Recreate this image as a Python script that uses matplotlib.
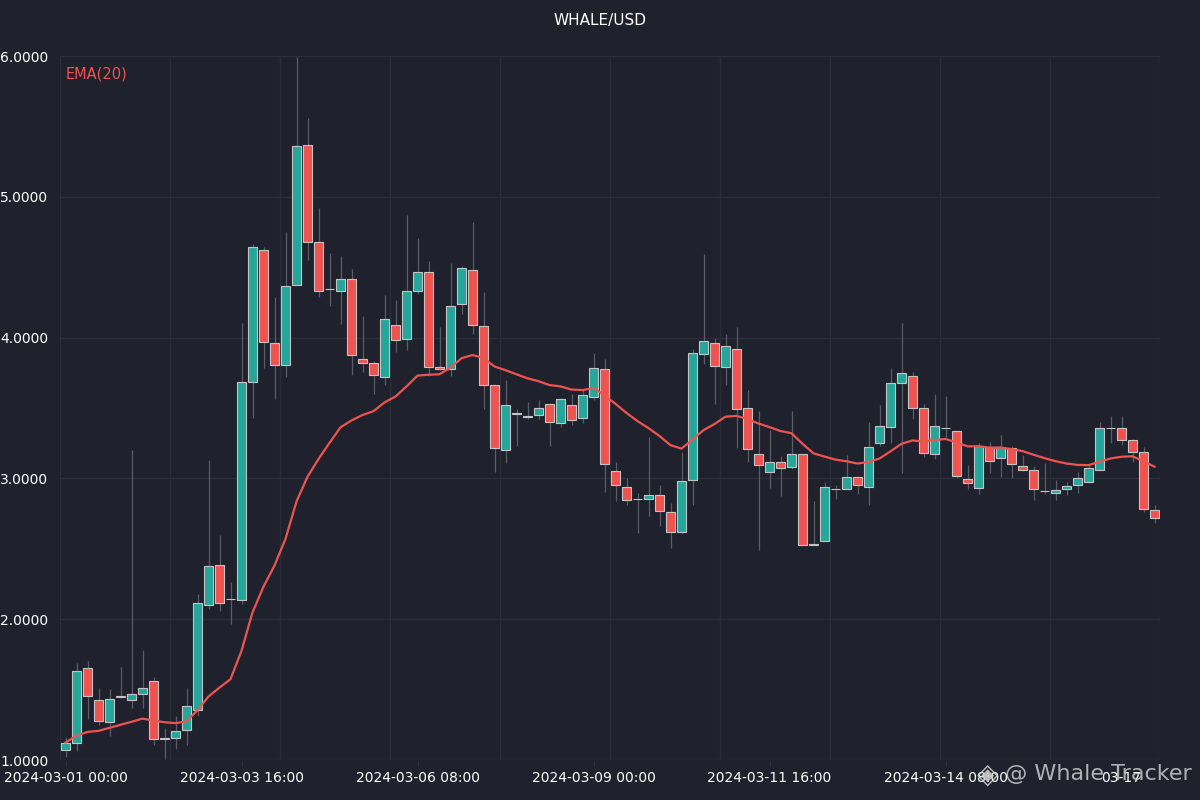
import matplotlib
matplotlib.use("Agg")
import matplotlib.pyplot as plt
import numpy as np
import pandas as pd

# OHLC values, one per 4h candle
opens = [1.072, 1.124, 1.651, 1.427, 1.270, 1.450, 1.423, 1.472, 1.560, 1.147,
         1.153, 1.212, 1.358, 2.098, 2.384, 2.143, 2.137, 3.684, 4.625, 3.961,
         3.808, 4.371, 5.365, 4.678, 4.345, 4.332, 4.414, 3.850, 3.818, 3.720,
         4.091, 3.993, 4.332, 4.463, 3.792, 3.775, 4.241, 4.479, 4.085, 3.661,
         3.205, 3.465, 3.440, 3.450, 3.531, 3.394, 3.524, 3.427, 3.580, 3.775,
         3.052, 2.938, 2.857, 2.857, 2.883, 2.762, 2.619, 2.990, 3.886, 3.961,
         3.792, 3.922, 3.498, 3.176, 3.046, 3.117, 3.078, 3.176, 2.528, 2.557,
         2.925, 2.922, 3.010, 2.938, 3.248, 3.362, 3.678, 3.726, 3.498, 3.173,
         3.355, 3.336, 2.993, 2.932, 3.225, 3.143, 3.215, 3.088, 3.062, 2.912,
         2.899, 2.922, 2.954, 2.977, 3.062, 3.355, 3.355, 3.274, 3.189, 2.775]
highs = [1.163, 1.690, 1.700, 1.511, 1.505, 1.658, 3.205, 1.782, 1.586, 1.228,
         1.316, 1.511, 2.182, 3.134, 2.596, 2.264, 4.104, 4.664, 4.642, 4.290,
         4.749, 5.993, 5.560, 4.919, 4.599, 4.583, 4.485, 4.150, 3.834, 4.300,
         4.264, 4.873, 4.704, 4.544, 4.078, 4.528, 4.508, 4.818, 4.322, 3.671,
         3.697, 3.492, 3.544, 3.557, 3.535, 3.573, 3.596, 3.638, 3.889, 3.850,
         3.117, 3.003, 2.899, 3.296, 2.954, 2.824, 3.189, 3.922, 4.593, 3.997,
         4.029, 4.078, 3.629, 3.476, 3.345, 3.156, 3.476, 3.176, 2.840, 2.977,
         2.954, 3.166, 3.020, 3.401, 3.524, 3.785, 4.101, 3.759, 3.531, 3.596,
         3.583, 3.336, 3.094, 3.248, 3.257, 3.306, 3.231, 3.166, 3.085, 3.108,
         2.987, 2.977, 3.042, 3.094, 3.401, 3.443, 3.443, 3.280, 3.225, 2.814]
lows = [1.023, 1.065, 1.293, 1.251, 1.169, 1.440, 1.368, 1.368, 1.107, 1.005,
        1.075, 1.104, 1.316, 2.075, 2.059, 1.967, 2.107, 3.427, 3.785, 3.564,
        3.720, 4.371, 4.550, 4.290, 4.225, 4.094, 3.736, 3.759, 3.599, 3.661,
        3.899, 3.915, 4.313, 3.726, 3.769, 3.726, 4.169, 4.023, 3.492, 3.046,
        3.111, 3.231, 3.420, 3.420, 3.231, 3.362, 3.378, 3.394, 3.557, 2.906,
        2.840, 2.808, 2.612, 2.736, 2.661, 2.505, 2.603, 2.814, 3.811, 3.531,
        3.661, 3.215, 3.117, 2.489, 2.932, 2.873, 3.068, 2.528, 2.524, 2.554,
        2.857, 2.922, 2.889, 2.808, 3.231, 3.248, 3.036, 3.420, 3.150, 3.140,
        3.296, 3.003, 2.922, 2.889, 3.036, 3.010, 3.003, 3.052, 2.850, 2.889,
        2.850, 2.883, 2.899, 2.964, 3.062, 3.248, 3.238, 3.117, 2.759, 2.684]
closes = [1.124, 1.635, 1.456, 1.277, 1.433, 1.455, 1.472, 1.511, 1.147, 1.153,
          1.205, 1.384, 2.114, 2.375, 2.117, 2.140, 3.687, 4.642, 3.971, 3.808,
          4.368, 5.358, 4.681, 4.332, 4.342, 4.414, 3.873, 3.818, 3.736, 4.130,
          3.980, 4.332, 4.463, 3.792, 3.775, 4.225, 4.495, 4.091, 3.661, 3.215,
          3.524, 3.460, 3.437, 3.498, 3.401, 3.564, 3.417, 3.590, 3.785, 3.101,
          2.951, 2.850, 2.854, 2.883, 2.769, 2.619, 2.980, 3.889, 3.977, 3.798,
          3.938, 3.492, 3.208, 3.094, 3.117, 3.072, 3.176, 2.528, 2.534, 2.938,
          2.928, 3.010, 2.954, 3.221, 3.375, 3.678, 3.752, 3.498, 3.182, 3.375,
          3.358, 3.020, 2.964, 3.231, 3.127, 3.225, 3.101, 3.062, 2.922, 2.912,
          2.919, 2.948, 3.003, 3.075, 3.355, 3.358, 3.270, 3.189, 2.782, 2.720]

x_tick_pos = [0, 16, 32, 48, 64, 80, 96]
x_tick_labels = ["2024-03-01 00:00", "2024-03-03 16:00", "2024-03-06 08:00",
                 "2024-03-09 00:00", "2024-03-11 16:00", "2024-03-14 08:00", "03-17"]
y_ticks = [1.0, 2.0, 3.0, 4.0, 5.0, 6.0]

BG = "#1f222d"
GRID = "#2a2e3a"
UP = "#26a69a"
DOWN = "#ef5350"

df = pd.DataFrame({"open": opens, "high": highs, "low": lows, "close": closes})
df["ema"] = df["close"].ewm(span=20, adjust=False).mean()
idx = np.arange(len(df))
colors = np.where(df["close"] >= df["open"], UP, DOWN)

fig = plt.figure(figsize=(12, 8), dpi=100, facecolor=BG)
ax = fig.add_axes([0.05, 0.05, 0.9167, 0.88], facecolor=BG)

ax.vlines(idx, df["low"], df["high"], color="#5a5d67", linewidth=0.9, zorder=2)
ax.bar(idx, df["close"] - df["open"], bottom=df["open"], width=0.84,
       color=colors, edgecolor="#c4c4c4", linewidth=0.8, zorder=3)
ax.plot(idx, df["ema"], color=DOWN, linewidth=1.6, zorder=4)

ax.set_xlim(-0.5, len(df) - 0.5)
ax.set_ylim(y_ticks[0], y_ticks[-1])

ax.set_xticks(x_tick_pos)
ax.set_xticklabels(x_tick_labels)
ax.set_xticks(np.arange(-0.5, len(df), 10), minor=True)
ax.set_yticks(y_ticks)
ax.set_yticklabels([f"{v:.4f}" for v in y_ticks])

ax.grid(which="minor", axis="x", color=GRID, linewidth=1)
ax.grid(which="major", axis="y", color=GRID, linewidth=1)
ax.tick_params(axis="x", which="major", colors=GRID, length=4, labelcolor="white",
               labelsize=10, pad=4)
ax.tick_params(axis="x", which="minor", length=0)
ax.tick_params(axis="y", length=0, labelcolor="white", labelsize=10, pad=43)
for lab in ax.get_yticklabels():
    lab.set_horizontalalignment("left")
for s in ax.spines.values():
    s.set_visible(False)

fig.text(0.5, 0.974, "WHALE/USD", color="white", fontsize=11, ha="center", va="center")
ax.text(0.005, 0.985, "EMA(20)", transform=ax.transAxes, color=DOWN, fontsize=10.5,
        ha="left", va="top")

# watermark
fig.text(0.823, 0.032, "\u25c8", color="#d6d6d6", alpha=0.85, fontsize=20,
         ha="center", va="center")
fig.text(0.993, 0.032, "@ Whale Tracker", color="#d6d6d6", alpha=0.8, fontsize=16,
         ha="right", va="center")

fig.savefig("out.png", dpi=100, facecolor=BG)
